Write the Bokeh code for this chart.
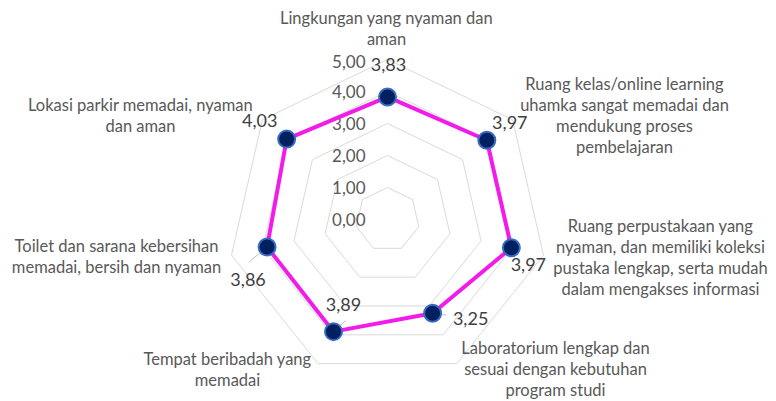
import math
from bokeh.plotting import figure
from bokeh.models import Range1d
from bokeh.core.properties import value
from bokeh.embed import file_html
from bokeh.resources import INLINE

categories = [
    ["Lingkungan yang nyaman dan", "aman"],
    ["Ruang kelas/online learning", "uhamka sangat memadai dan", "mendukung proses", "pembelajaran"],
    ["Ruang perpustakaan yang", "nyaman, dan memiliki koleksi", "pustaka lengkap, serta mudah", "dalam mengakses informasi"],
    ["Laboratorium lengkap dan", "sesuai dengan kebutuhan", "program studi"],
    ["Tempat beribadah yang", "memadai"],
    ["Toilet dan sarana kebersihan", "memadai, bersih dan nyaman"],
    ["Lokasi parkir memadai, nyaman", "dan aman"],
]
values = [3.83, 3.97, 3.97, 3.25, 3.89, 3.86, 4.03]
value_labels = ["3,83", "3,97", "3,97", "3,25", "3,89", "3,86", "4,03"]
ticks = [0, 1, 2, 3, 4, 5]
tick_labels = ["0,00", "1,00", "2,00", "3,00", "4,00", "5,00"]

# layout (screen-like data space)
CX, CY, S = 387, 219, 32.0
N = len(values)

def pt(v, k):
    a = math.radians(90 - k * 360.0 / N)
    return CX + S * v * math.cos(a), CY - S * v * math.sin(a)

p = figure(width=776, height=401, output_backend="svg", toolbar_location=None,
           x_range=Range1d(0, 776), y_range=Range1d(401, 0), min_border=0)
p.axis.visible = False
p.grid.visible = False
p.outline_line_color = None

# grid rings
for t in ticks[1:]:
    xs = [pt(t, k)[0] for k in range(N)] + [pt(t, 0)[0]]
    ys = [pt(t, k)[1] for k in range(N)] + [pt(t, 0)[1]]
    p.line(xs, ys, line_color="#d9d9d9", line_width=1)

# tick labels
p.text(x=[365] * len(ticks), y=[CY - S * t + (2 if t == 5 else 0) for t in ticks], text=tick_labels,
       text_align="right", text_baseline="middle", text_color="#595959",
       text_font=value("Lato"), text_font_size="17px")

# series
sx = [pt(v, k)[0] for k, v in enumerate(values)]
sy = [pt(v, k)[1] for k, v in enumerate(values)]
p.line(sx + [sx[0]], sy + [sy[0]], line_color="#F21BE9", line_width=4)

# leader lines for some value labels
lead = {3: (14, 2), 4: (12, -11), 5: (-18, 15)}
for k, (dx, dy) in lead.items():
    p.line([sx[k], sx[k] + dx], [sy[k], sy[k] + dy], line_color="#bfbfbf", line_width=1)

p.scatter(sx, sy, size=17, marker="circle", fill_color="#002060",
          line_color="#3A6BC0", line_width=2)

# value labels (offsets relative to points)
offs = [(1, -32), (23, -18), (17, 17), (38, 5), (10, -27), (-19, 33), (-27, -19)]
p.text(x=[sx[k] + offs[k][0] for k in range(N)], y=[sy[k] + offs[k][1] for k in range(N)],
       text=value_labels, text_align="center", text_baseline="middle",
       text_color="#404040", text_font=value("Lato"), text_font_size="18px")

# category labels
cat_pos = [(386, 17), (624, 83), (660, 225), (555, 347), (227, 358), (116, 245), (140, 104)]
lx, ly, lt = [], [], []
for (x0, y0), lines in zip(cat_pos, categories):
    for i, s in enumerate(lines):
        lx.append(x0)
        ly.append(y0 + i * 21.3)
        lt.append(s)
p.text(x=lx, y=ly, text=lt, text_align="center", text_baseline="middle",
       text_color="#595959", text_font=value("Lato"), text_font_size="16.5px")

open("out.html", "w").write(file_html(p, INLINE))
